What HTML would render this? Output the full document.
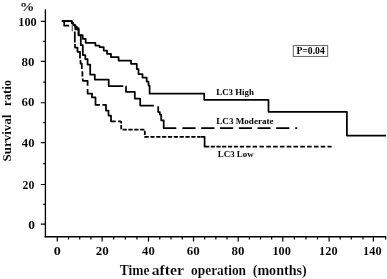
<!DOCTYPE html>
<html><head><meta charset="utf-8"><title>Survival</title>
<style>
html,body{margin:0;padding:0;background:#fff;}
body{width:387px;height:279px;overflow:hidden;}
svg{display:block;font-family:"Liberation Serif",serif;font-weight:bold;fill:#000;}
text{stroke:#fff;}
</style></head><body>
<svg width="387" height="279" viewBox="0 0 387 279">
<rect width="387" height="279" fill="#fff"/>

<g stroke="#000" stroke-width="1.4" fill="none" stroke-linecap="butt">
<path d="M45.4,9.3 V237.4" stroke-width="1.35"/>
<path d="M44.75,236.7 H386.2" stroke-width="1.6"/>
<path d="M40.80,224.10 H45.4 M43.20,204.30 H45.4 M40.80,184.50 H45.4 M43.20,163.57 H45.4 M40.80,142.65 H45.4 M43.20,122.70 H45.4 M40.80,102.75 H45.4 M43.20,82.08 H45.4 M40.80,61.40 H45.4 M43.20,41.40 H45.4 M40.80,21.40 H45.4 M57.30,236.5 V241.40 M68.50,236.5 V239.50 M79.70,236.5 V239.50 M90.90,236.5 V239.50 M102.10,236.5 V241.40 M113.70,236.5 V239.50 M125.30,236.5 V239.50 M136.90,236.5 V239.50 M148.50,236.5 V241.40 M159.75,236.5 V239.50 M171.00,236.5 V239.50 M182.25,236.5 V239.50 M193.50,236.5 V241.40 M204.68,236.5 V239.50 M215.85,236.5 V239.50 M227.02,236.5 V239.50 M238.20,236.5 V241.40 M249.35,236.5 V239.50 M260.50,236.5 V239.50 M271.65,236.5 V239.50 M282.80,236.5 V241.40 M294.38,236.5 V239.50 M305.95,236.5 V239.50 M317.53,236.5 V239.50 M329.10,236.5 V241.40 M340.18,236.5 V239.50 M351.25,236.5 V239.50 M363.00,236.5 V239.50 M373.40,236.5 V241.40 M385.60,236.5 V239.50 " stroke-width="1.2"/>
</g>
<text transform="translate(18.32,25.9) scale(0.9462,1)" font-size="13px" stroke-width="0.05">100</text>
<text transform="translate(21.57,65.8) scale(0.9936,1)" font-size="13px" stroke-width="0.05">80</text>
<text transform="translate(21.56,106.2) scale(0.9947,1)" font-size="13px" stroke-width="0.05">60</text>
<text transform="translate(21.82,146.65) scale(0.9737,1)" font-size="13px" stroke-width="0.05">40</text>
<text transform="translate(22.60,188.9) scale(0.9114,1)" font-size="13px" stroke-width="0.05">20</text>
<text transform="translate(28.19,228.5) scale(1.0341,1)" font-size="13px" stroke-width="0.05">0</text>
<text transform="translate(53.81,255.1) scale(1.0885,1)" font-size="13px" stroke-width="0.05">0</text>
<text transform="translate(95.65,255.1) scale(1.0033,1)" font-size="13px" stroke-width="0.05">20</text>
<text transform="translate(142.12,255.1) scale(0.9737,1)" font-size="13px" stroke-width="0.05">40</text>
<text transform="translate(186.76,255.1) scale(0.9947,1)" font-size="13px" stroke-width="0.05">60</text>
<text transform="translate(231.57,255.1) scale(0.9936,1)" font-size="13px" stroke-width="0.05">80</text>
<text transform="translate(272.42,255.1) scale(0.9462,1)" font-size="13px" stroke-width="0.05">100</text>
<text transform="translate(319.12,255.1) scale(0.9462,1)" font-size="13px" stroke-width="0.05">120</text>
<text transform="translate(363.12,255.1) scale(0.9462,1)" font-size="13px" stroke-width="0.05">140</text>
<text transform="translate(19.69,10.85) scale(1.1663,1)" font-size="12.6px" stroke-width="0.05">%</text>
<text transform="translate(10.5,161.59) rotate(-90) scale(1.0412,1)" font-size="12.5px" stroke-width="0.05">Survival</text>
<text transform="translate(10.5,105.94) rotate(-90) scale(1.0171,1)" font-size="12.5px" stroke-width="0.05">ratio</text>
<text transform="translate(119.68,275.4) scale(0.9004,1)" font-size="15px" stroke-width="0.12">Time</text>
<text transform="translate(151.70,275.4) scale(1.0500,1)" font-size="15px" stroke-width="0.12">after</text>
<text transform="translate(191.09,275.4) scale(0.8921,1)" font-size="15px" stroke-width="0.12">operation</text>
<text transform="translate(252.68,275.4) scale(0.9414,1)" font-size="15px" stroke-width="0.12">(months)</text>
<g stroke="#000" stroke-width="1.75" fill="none" stroke-linejoin="round">
<path d="M61.8,21 H71.8 V23.1 H73.2 V25.2 H75 V26.6 H76.8 V28 H78.6 V35.2 H82.7 V38.8 H85.7 V42.8 H95.4 V45.5 H99.5 V47 H103.7 V50.5 H107 V53.8 H111 V57.2 H118.6 V60.5 H131 V63.8 H136.8 V69 H138.5 V74 H142.5 V77.5 H146.7 V81.5 H148.5 V85.5 H149.6 V93.7 H204.2 V99.8 H268.5 V111.85 H346.9 V135.55 H386"/>
<path d="M61.8,21 H71.8 V23.1 H73.2 V25.2 H75.3 V29.3 H78.6 V35.3 H80.8 V45.2 H82.8 V55 H85.3 V59 H87.6 V64.5 H90.2 V74.7 H94.8 V79.6 H108.7 V86.2 H123.3 M125.6,86.4 H126 V91.8 H134.8 V98.5 H140.2 V105.6 H153.8 M158.2,106.3 V112 H159.8 V114.5 H161.2 V120.3 H163.7 V128.2 H176.3 M182.4,128.2 H195.6 M201.2,128.2 H214.4 M220,128.2 H233.2 M238.8,128.2 H252 M257.6,128.2 H270.6 M276.2,128.2 H289.4 M295.2,128.2 H297.2"/>
<path d="M72.3,24.3 V31.3" stroke="#666" stroke-width="1.3"/>
<path d="M64.2,21 V25.7 H69.2 M74.8,31.5 V42.5 M75,44.1 V47.6 H77.5 V51.8 H80 V58.6 M80.5,59.9 V63.5 H81.8 V69.1 M82.4,71.2 V76.5 M82.8,78.6 V80.8 H87.6 V85.8 M87.6,89 V93.5 H92 V97.4 H95.5 V104.8 H100 M102.4,104.8 H106 V110.6 H108.5 V115.5 H111 V121.3 H115.7 M118.1,121.3 H121.2"/>
<path d="M121.2,121.3 V129.5 H144.8 V136.8 H200.5" stroke-dasharray="4.25 1.6" stroke-dashoffset="2.15"/>
<path d="M200.7,136.8 H204.6 V146.7 H209.2"/>
<path d="M210.7,146.7 H214.9 M216.4,146.7 H220.6 M222.1,146.7 H226.3 M228.0,146.7 H232.2 M233.9,146.7 H238.1 M239.8,146.7 H244.0 M246.1,146.7 H250.5 M252.7,146.7 H257.1 M259.5,146.7 H263.9 M266.3,146.7 H270.9 M273.1,146.7 H277.7 M279.9,146.7 H284.5 M286.7,146.7 H291.3 M293.5,146.7 H298.1 M300.3,146.7 H304.9 M307.1,146.7 H311.7 M313.9,146.7 H318.5 M320.7,146.7 H325.3 M327.5,146.7 H331.6 "/>
</g>
<text transform="translate(216.25,94.9) scale(0.9850,1)" font-size="9px" stroke-width="0">LC3 High</text>
<text transform="translate(216.25,124.1) scale(1.0116,1)" font-size="9px" stroke-width="0">LC3 Moderate</text>
<text transform="translate(217.75,157.2) scale(0.9930,1)" font-size="9px" stroke-width="0">LC3 Low</text>
<rect x="293.3" y="45.6" width="34.4" height="10.8" fill="#fff" stroke="#555" stroke-width="0.9"/>
<text transform="translate(296.44,54) scale(1.0400,1)" font-size="9.3px" stroke-width="0">P=0.04</text>
</svg></body></html>
